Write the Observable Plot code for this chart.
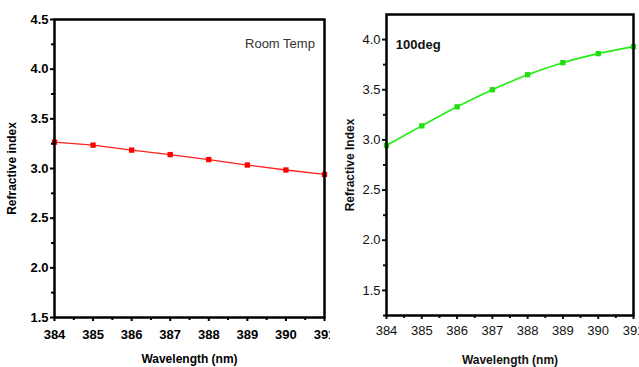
<!DOCTYPE html>
<html><head><meta charset="utf-8">
<script src="https://cdn.jsdelivr.net/npm/d3@7"></script>
<script src="https://cdn.jsdelivr.net/npm/@observablehq/plot@0.6"></script>
<style>
html,body{margin:0;padding:0;background:#fff;}
#wrap{position:relative;width:639px;height:367px;overflow:hidden;}
#left{position:absolute;left:0;top:0;}
#right{position:absolute;left:330px;top:0;}
</style></head>
<body><div id="wrap"><div id="left"></div><div id="right"></div></div>
<script>
const wavelength = [384, 385, 386, 387, 388, 389, 390, 391];
const roomTemp = [3.265, 3.235, 3.185, 3.14, 3.09, 3.035, 2.985, 2.94];
const deg100 = [2.945, 3.14, 3.33, 3.50, 3.65, 3.77, 3.86, 3.93];
const xTicks = [384, 385, 386, 387, 388, 389, 390, 391];
const xMinor = [384.5, 385.5, 386.5, 387.5, 388.5, 389.5, 390.5];
const yTicksLeft = [1.5, 2.0, 2.5, 3.0, 3.5, 4.0, 4.5];
const yMinorLeft = [1.75, 2.25, 2.75, 3.25, 3.75, 4.25];
const yTicksRight = [1.5, 2.0, 2.5, 3.0, 3.5, 4.0];
const yMinorRight = [1.25, 1.75, 2.25, 2.75, 3.25, 3.75];

const leftData = wavelength.map((w, i) => ({w, n: roomTemp[i]}));
const rightData = wavelength.map((w, i) => ({w, n: deg100[i]}));

const left = Plot.plot({
  width: 330, height: 367,
  marginLeft: 54, marginRight: 6, marginTop: 19, marginBottom: 50,
  style: {fontFamily: "Liberation Sans, Arial, sans-serif", fontSize: "12px", color: "#000", background: "#fff", overflow: "visible"},
  x: {domain: [384, 391]},
  y: {domain: [1.5, 4.5]},
  marks: [
    Plot.line(leftData, {x: "w", y: "n", stroke: "#ff2020", strokeWidth: 1.3}),
    Plot.dot(leftData, {x: "w", y: "n", symbol: "square", r: 3, fill: "#ff0000", stroke: "none"}),
    Plot.axisX({ticks: xTicks, tickFormat: d => String(d), tickSize: 4, tickPadding: 8, fontWeight: "bold", fontSize: 13, strokeWidth: 2, label: null}),
    Plot.axisX({ticks: xMinor, tickFormat: () => "", tickSize: 3, strokeWidth: 2, label: null}),
    Plot.axisY({ticks: yTicksLeft, tickFormat: d => d.toFixed(1), tickSize: 4, tickPadding: 2, fontWeight: "bold", fontSize: 13, strokeWidth: 2, label: null}),
    Plot.axisY({ticks: yMinorLeft, tickFormat: () => "", tickSize: 3, strokeWidth: 2, label: null}),
    Plot.frame({stroke: "#000", strokeWidth: 2.5}),
    Plot.text(["Room Temp"], {x: 390.75, y: 4.26, text: d => d, textAnchor: "end", fontSize: 13, fill: "#333", fontFamily: "Liberation Sans Narrow, Liberation Sans, sans-serif"}),
    Plot.text(["Wavelength (nm)"], {x: 387.5, y: 1.5, text: d => d, dy: 42, fontSize: 12, fontWeight: "bold", fontFamily: "Liberation Sans Narrow, Liberation Sans, sans-serif"}),
    Plot.text(["Refractive index"], {x: 384, y: 3.0, text: d => d, dx: -42, rotate: -90, fontSize: 12, fontWeight: "bold"})
  ]
});
document.getElementById("left").appendChild(left);

const right = Plot.plot({
  width: 309, height: 367,
  marginLeft: 56, marginRight: 6, marginTop: 14, marginBottom: 52,
  style: {fontFamily: "Liberation Sans Narrow, Liberation Sans, Arial, sans-serif", fontSize: "12px", color: "#111", background: "#fff", overflow: "visible"},
  x: {domain: [384, 391]},
  y: {domain: [1.25, 4.25]},
  marks: [
    Plot.line(rightData, {x: "w", y: "n", stroke: "#22ee11", strokeWidth: 1.6, curve: "catmull-rom"}),
    Plot.dot(rightData, {x: "w", y: "n", symbol: "square", r: 3, fill: "#22dd11", stroke: "none"}),
    Plot.axisX({ticks: xTicks, tickFormat: d => String(d), tickSize: 4, tickPadding: 6, fontSize: 13, strokeWidth: 2, label: null}),
    Plot.axisX({ticks: xMinor, tickFormat: () => "", tickSize: 3, strokeWidth: 2, label: null}),
    Plot.axisY({ticks: yTicksRight, tickFormat: d => d.toFixed(1), tickSize: 4, tickPadding: 2, fontSize: 13, strokeWidth: 2, label: null}),
    Plot.axisY({ticks: yMinorRight, tickFormat: () => "", tickSize: 3, strokeWidth: 2, label: null}),
    Plot.frame({stroke: "#000", strokeWidth: 2.5}),
    Plot.text(["100deg"], {x: 384.9, y: 3.95, text: d => d, fontSize: 13, fontWeight: "bold", fill: "#111"}),
    Plot.text(["Wavelength (nm)"], {x: 387.5, y: 1.25, text: d => d, dy: 45, fontSize: 12, fontWeight: "bold"}),
    Plot.text(["Refractive Index"], {x: 384, y: 2.75, text: d => d, dx: -36, rotate: -90, fontSize: 12, fontWeight: "bold", fontFamily: "Liberation Sans, Arial, sans-serif"})
  ]
});
document.getElementById("right").appendChild(right);
</script></body></html>
